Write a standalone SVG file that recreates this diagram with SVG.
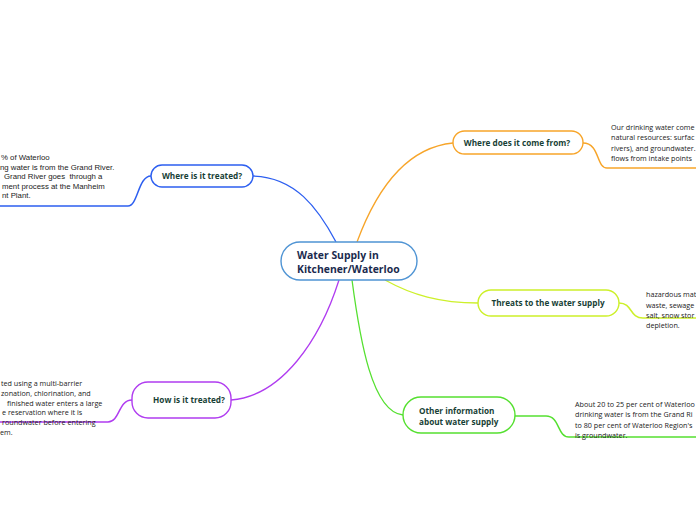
<svg xmlns="http://www.w3.org/2000/svg" width="696" height="520" viewBox="0 0 696 520">
<style>
.node{fill:#fff;stroke-width:1.4}
.lbl{font-family:"Open Sans",sans-serif;font-weight:bold;font-size:8.2px;fill:#183f36}
.ctr{font-family:"Open Sans",sans-serif;font-weight:bold;font-size:10.4px;fill:#1b2b4e}
.body{font-family:"Open Sans",sans-serif;font-size:7.2px;fill:#222}
.arial{font-family:"Liberation Sans",Arial,sans-serif;font-size:7.8px;fill:#222}
.c{fill:none;stroke-width:1.3}
.u{fill:none;stroke-width:1.5}
</style>
<rect width="696" height="520" fill="#fff"/>
<g id="connectors">
<path class="c" stroke="#2d5ff0" d="M336,242 C318,208 295,177 253,176"/>
<path class="u" stroke="#2d5ff0" d="M151,176 C138,176 138,206 128,206 L0,206"/>
<path class="c" stroke="#f7a52a" d="M357,242 C374,196 402,148 453,143"/>
<path class="u" stroke="#f7a52a" d="M583,143 C600,143 596,168 607,168 L696,168"/>
<path class="c" stroke="#cdf02a" d="M385,280 C412,295 440,303 478,303"/>
<path class="u" stroke="#cdf02a" d="M619,303 C633,303 629,318 643,318 L696,318"/>
<path class="c" stroke="#55e030" d="M352,280 C360,340 372,412 403,415"/>
<path class="u" stroke="#55e030" d="M515,416 L537,416"/>
<path class="u" stroke="#55e030" stroke-width="3" d="M537,416 L546,416"/>
<path class="u" stroke="#55e030" d="M546,416 C560,416 557,437 569,437 L696,437"/>
<path class="c" stroke="#b03cf0" d="M339,280 C320,340 282,396 231,400"/>
<path class="u" stroke="#b03cf0" d="M132,400 C118,400 120,422 108,422 L0,422"/>
</g>
<g id="center">
<rect class="node" x="281" y="242" width="136" height="38" rx="19" stroke="#4f94d4"/>
<text class="ctr" x="297" y="259">Water Supply in</text>
<text class="ctr" x="297" y="273">Kitchener/Waterloo</text>
</g>
<g id="where-treated">
<rect class="node" x="151" y="165" width="102" height="22" rx="11" stroke="#2d5ff0"/>
<text class="lbl" x="202" y="179" text-anchor="middle">Where is it treated?</text>
<text class="arial" x="1" y="160">% of Waterloo</text>
<text class="arial" x="0" y="169.5">ng water is from the Grand River.</text>
<text class="arial" x="4" y="179" xml:space="preserve">Grand River goes  through a</text>
<text class="arial" x="2" y="188.5">ment process at the Manheim</text>
<text class="arial" x="2" y="198">nt Plant.</text>
</g>
<g id="where-from">
<rect class="node" x="453" y="131" width="130" height="23" rx="11.5" stroke="#f7a52a"/>
<text class="lbl" x="517" y="146" text-anchor="middle">Where does it come from?</text>
<text class="body" x="611" y="129.5">Our drinking water come</text>
<text class="body" x="611" y="140">natural resources: surfac</text>
<text class="body" x="611" y="150.5">rivers), and groundwater.</text>
<text class="body" x="611" y="161">flows from intake points</text>
</g>
<g id="threats">
<rect class="node" x="478" y="290" width="141" height="26" rx="13" stroke="#cdf02a"/>
<text class="lbl" x="548" y="306" text-anchor="middle">Threats to the water supply</text>
<text class="body" x="646" y="297">hazardous mat</text>
<text class="body" x="646" y="307.5">waste, sewage</text>
<text class="body" x="646" y="318">salt, snow stor</text>
<text class="body" x="646" y="328">depletion.</text>
</g>
<g id="other-info">
<rect class="node" x="403" y="397" width="112" height="36" rx="18" stroke="#55e030"/>
<text class="lbl" x="419" y="414">Other information</text>
<text class="lbl" x="419" y="425">about water supply</text>
<text class="body" x="575" y="406.5">About 20 to 25 per cent of Waterloo</text>
<text class="body" x="575" y="417">drinking water is from the Grand Ri</text>
<text class="body" x="575" y="427.5">to 80 per cent of Waterloo Region's</text>
<text class="body" x="575" y="438">is groundwater.</text>
</g>
<g id="how-treated">
<rect class="node" x="132" y="382" width="99" height="36" rx="16" stroke="#b03cf0"/>
<text class="lbl" x="189" y="403" text-anchor="middle">How is it treated?</text>
<text class="body" x="1" y="385.5">ted using a multi-barrier</text>
<text class="body" x="1" y="395.5">zonation, chlorination, and</text>
<text class="body" x="7" y="405.5">finished water enters a large</text>
<text class="body" x="2" y="415">e reservation where it is</text>
<text class="body" x="2" y="425">roundwater before entering</text>
<text class="body" x="0" y="434.5">em.</text>
</g>
</svg>
